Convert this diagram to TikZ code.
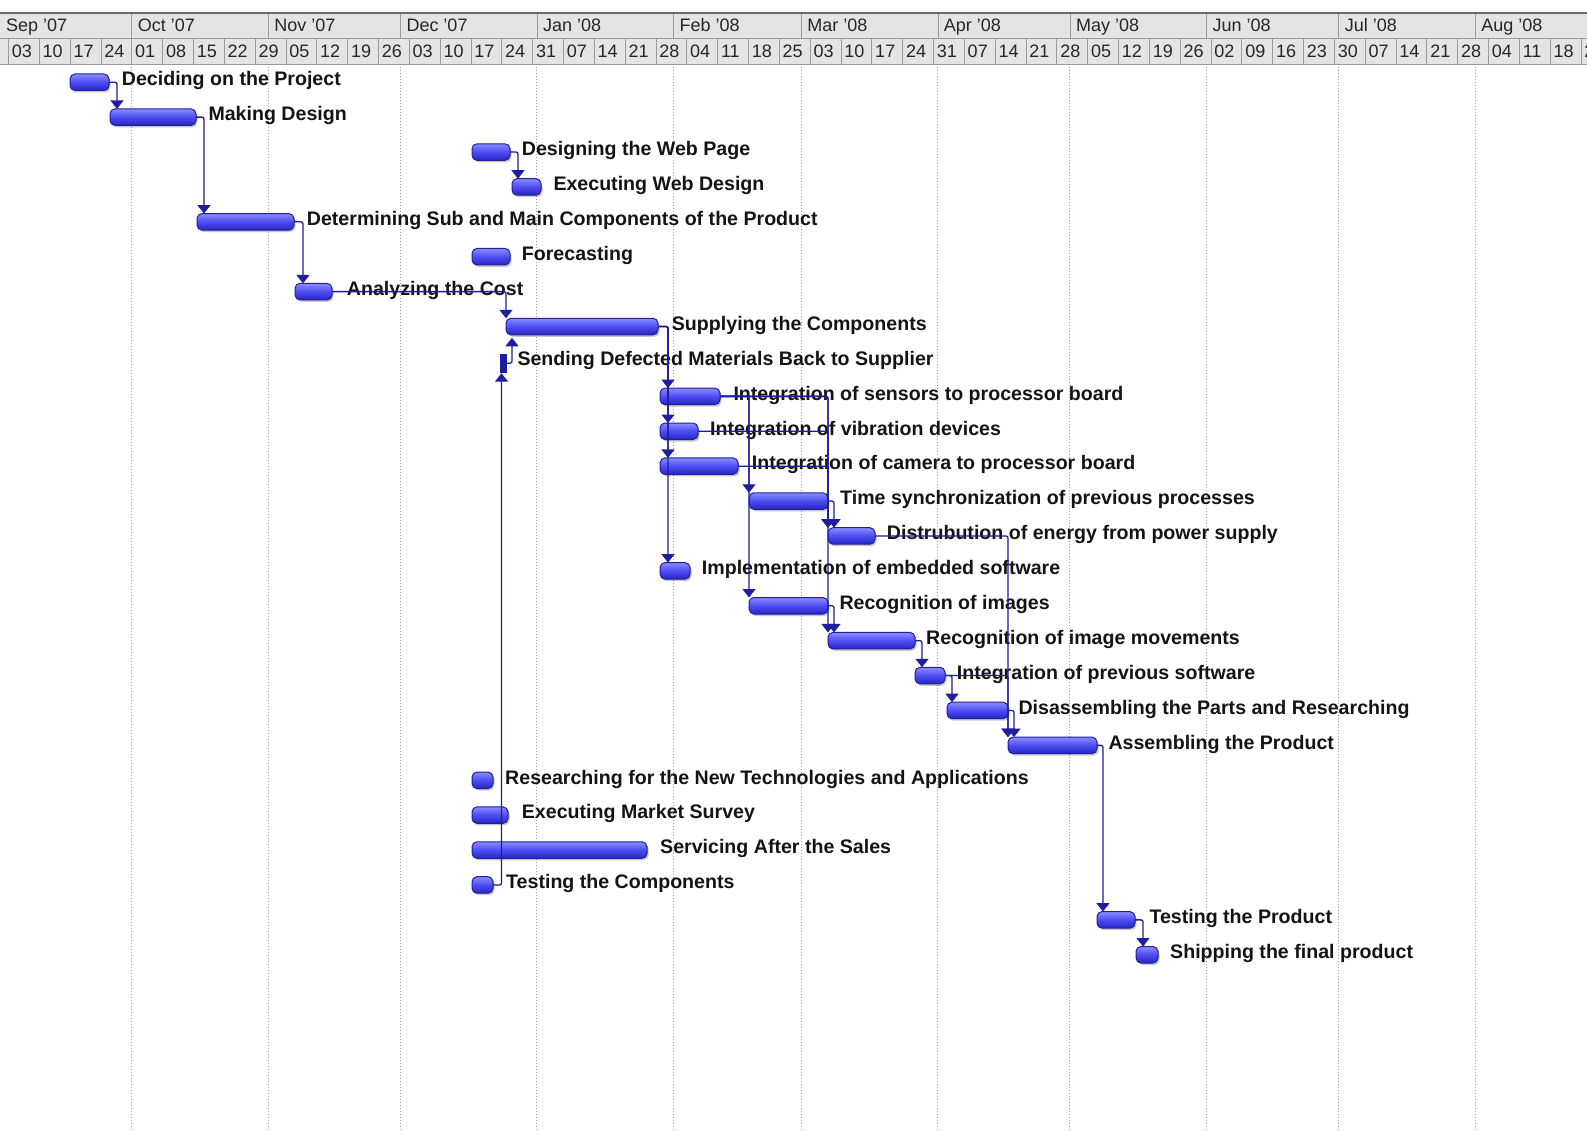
\documentclass[tikz,border=0pt]{standalone}
\usepackage{fontspec}
\setmainfont{Liberation Sans}
\usetikzlibrary{arrows.meta,shadows,calc}
\definecolor{navy}{HTML}{1E1E9E}
\definecolor{bartop}{HTML}{8C8CFF}
\definecolor{barmid}{HTML}{4C4CF2}
\definecolor{barbot}{HTML}{2626C4}
\definecolor{hdrfill}{HTML}{E4E4E4}
\definecolor{hdrline}{HTML}{9A9A9A}
\definecolor{gridc}{HTML}{A0A0A0}
\begin{document}
\begin{tikzpicture}[x=1pt,y=-1pt,
  bar/.style={draw=navy, line width=1pt, rounded corners=5pt,
    top color=bartop, bottom color=barbot, middle color=barmid,
    minimum height=16.5pt, inner sep=0pt, outer sep=0pt,
    drop shadow={shadow xshift=1.5pt, shadow yshift=-2pt, fill=black, opacity=0.22}},
  thinbar/.style={draw=navy, fill=navy!90!blue, inner sep=0pt, outer sep=0pt},
  lab/.style={font=\bfseries\fontsize{19.6}{22}\selectfont, inner sep=0pt, text=black!92},
  hdr/.style={font=\fontsize{18}{20}\selectfont, inner sep=0pt, text=black!85},
  conn/.style={draw=navy, line width=1.3pt, rounded corners=2pt,
    -{Triangle[width=13pt,length=8.5pt]}},
  gridline/.style={draw=gridc, line width=1pt, dash pattern=on 1pt off 2pt}]
\useasboundingbox (0,0) rectangle (1587,1131);
\fill[white] (0,0) rectangle (1587,1131);

% ---------- grid lines at month boundaries
\foreach \d in {28,59,89,120,151,180,211,241,272,302,333}
  \draw[gridline] (8.25+4.405*\d,64) -- (8.25+4.405*\d,1131);

% ---------- header
\fill[hdrfill] (0,13) rectangle (1587,64);
\draw[hdrline] (0,38.5) -- (1587,38.5);
\draw[hdrline] (0,64) -- (1587,64);
\draw[hdrline!70!black, line width=2pt] (0,13) -- (1587,13);
\foreach \d in {28,59,89,120,151,180,211,241,272,302,333}
  \draw[hdrline] (8.25+4.405*\d,14) -- (8.25+4.405*\d,38.5);
\foreach \k in {0,...,51}
  \draw[hdrline] (8.25+30.835*\k,38.5) -- (8.25+30.835*\k,64);
\foreach \x/\t [count=\k] in {0/Sep,131.6/Oct,268.1/Nov,400.3/Dec}
  \node[hdr, anchor=base west] (m\k) at (\x+6,32) {\t\ \char39 07};
\foreach \x/\t [count=\k from 5] in {536.9/Jan,673.4/Feb,801.2/Mar,937.7/Apr,1069.9/May,1206.4/Jun,1338.6/Jul,1475.1/Aug}
  \node[hdr, anchor=base west] (m\k) at (\x+6,32) {\t\ \char39 08};
\foreach \t [count=\k from 0] in {03,10,17,24,01,08,15,22,29,05,12,19,26,03,10,17,24,31,07,14,21,28,04,11,18,25,03,10,17,24,31,07,14,21,28,05,12,19,26,02,09,16,23,30,07,14,21,28,04,11,18,25}
  \node[hdr, anchor=base west] (w\k) at (8.25+30.835*\k+3.4,58) {\t};

% ---------- task bars and labels
\foreach \i/\a/\b/\lx/\t in {
  1/70/109/121.7/Deciding on the Project,
  2/110/196/208.3/Making Design,
  3/472/510/521.7/Designing the Web Page,
  4/512/541/553.3/Executing Web Design,
  5/197/294/306.7/Determining Sub and Main Components of the Product,
  6/472/510/521.7/Forecasting,
  7/295/332/346.7/Analyzing the Cost,
  8/506/658/671.7/Supplying the Components,
  10/660/720/733.3/Integration of sensors to processor board,
  11/660/698/710/Integration of vibration devices,
  12/660/738/751.7/Integration of camera to processor board,
  13/749/828/840/Time synchronization of previous processes,
  14/828/875/886.7/Distrubution of energy from power supply,
  15/660/690/701.7/Implementation of embedded software,
  16/749/828/839.3/Recognition of images,
  17/828/915/926/Recognition of image movements,
  18/915/945/956.7/Integration of previous software,
  19/947/1008/1018.3/Disassembling the Parts and Researching,
  20/1008/1097/1108.3/Assembling the Product,
  21/472/493/505/Researching for the New Technologies and Applications,
  22/472/508/521.7/Executing Market Survey,
  23/472/647/660/Servicing After the Sales,
  24/472/493/506/Testing the Components,
  25/1097/1135/1149.3/Testing the Product,
  26/1136/1158/1170/Shipping the final product}
{
  \pgfmathsetmacro{\c}{79+(\i-1)*34.9}
  \pgfmathsetmacro{\w}{\b-\a}
  \node[bar, minimum width=\w pt, anchor=north west] (b\i) at (\a,\c-5) {};
  \node[lab, anchor=base west] (l\i) at (\lx,\c+7) {\t};
}
% task 9: very short task
\node[thinbar, minimum width=6pt, minimum height=18pt, anchor=north west] (b9) at (500,354.2) {};
\node[lab, anchor=base west] (l9) at (517.3,365.2) {Sending Defected Materials Back to Supplier};

% ---------- dependency connectors
\draw[conn] (b1.east) -| ($(b2.north west)+(7,0)$);
\draw[conn] (b2.east) -| ($(b5.north west)+(7,0)$);
\draw[conn] (b5.east) -| ($(b7.north west)+(8,0)$);
\draw[conn] (b7.east) -| (b8.north west);
\draw[conn] (b3.east) -| ($(b4.north west)+(6,0)$);
\draw[conn] (b8.east) -| ($(b15.north west)+(8,0)$);
\draw[conn] (b8.east) -| ($(b12.north west)+(8,0)$);
\draw[conn] (b8.east) -| ($(b11.north west)+(8,0)$);
\draw[conn] (b8.east) -| ($(b10.north west)+(8,0)$);
\draw[conn] (b24.east) -| ($(b9.south west)+(1.5,1)$);
\draw[conn] (b9.east) -| ($(b8.south west)+(6,3)$);
\draw[conn] (b10.east) -| (b16.north west);
\draw[conn] (b10.east) -| (b13.north west);
\draw[conn] (b10.east) -| (b17.north west);
\draw[conn] (b10.east) -| (b14.north west);
\draw[conn] (b11.east) -| (b14.north west);
\draw[conn] (b12.east) -| (b14.north west);
\draw[conn] (b13.east) -| ($(b14.north west)+(6,0)$);
\draw[conn] (b16.east) -| ($(b17.north west)+(6,0)$);
\draw[conn] (b14.east) -| (b20.north west);
\draw[conn] (b18.east) -| (b20.north west);
\draw[conn] (b17.east) -| ($(b18.north west)+(7,0)$);
\draw[conn] (b18.east) -| ($(b19.north west)+(5,0)$);
\draw[conn] (b19.east) -| ($(b20.north west)+(6,0)$);
\draw[conn] (b20.east) -| ($(b25.north west)+(6,0)$);
\draw[conn] (b25.east) -| ($(b26.north west)+(7,0)$);
\end{tikzpicture}
\end{document}
